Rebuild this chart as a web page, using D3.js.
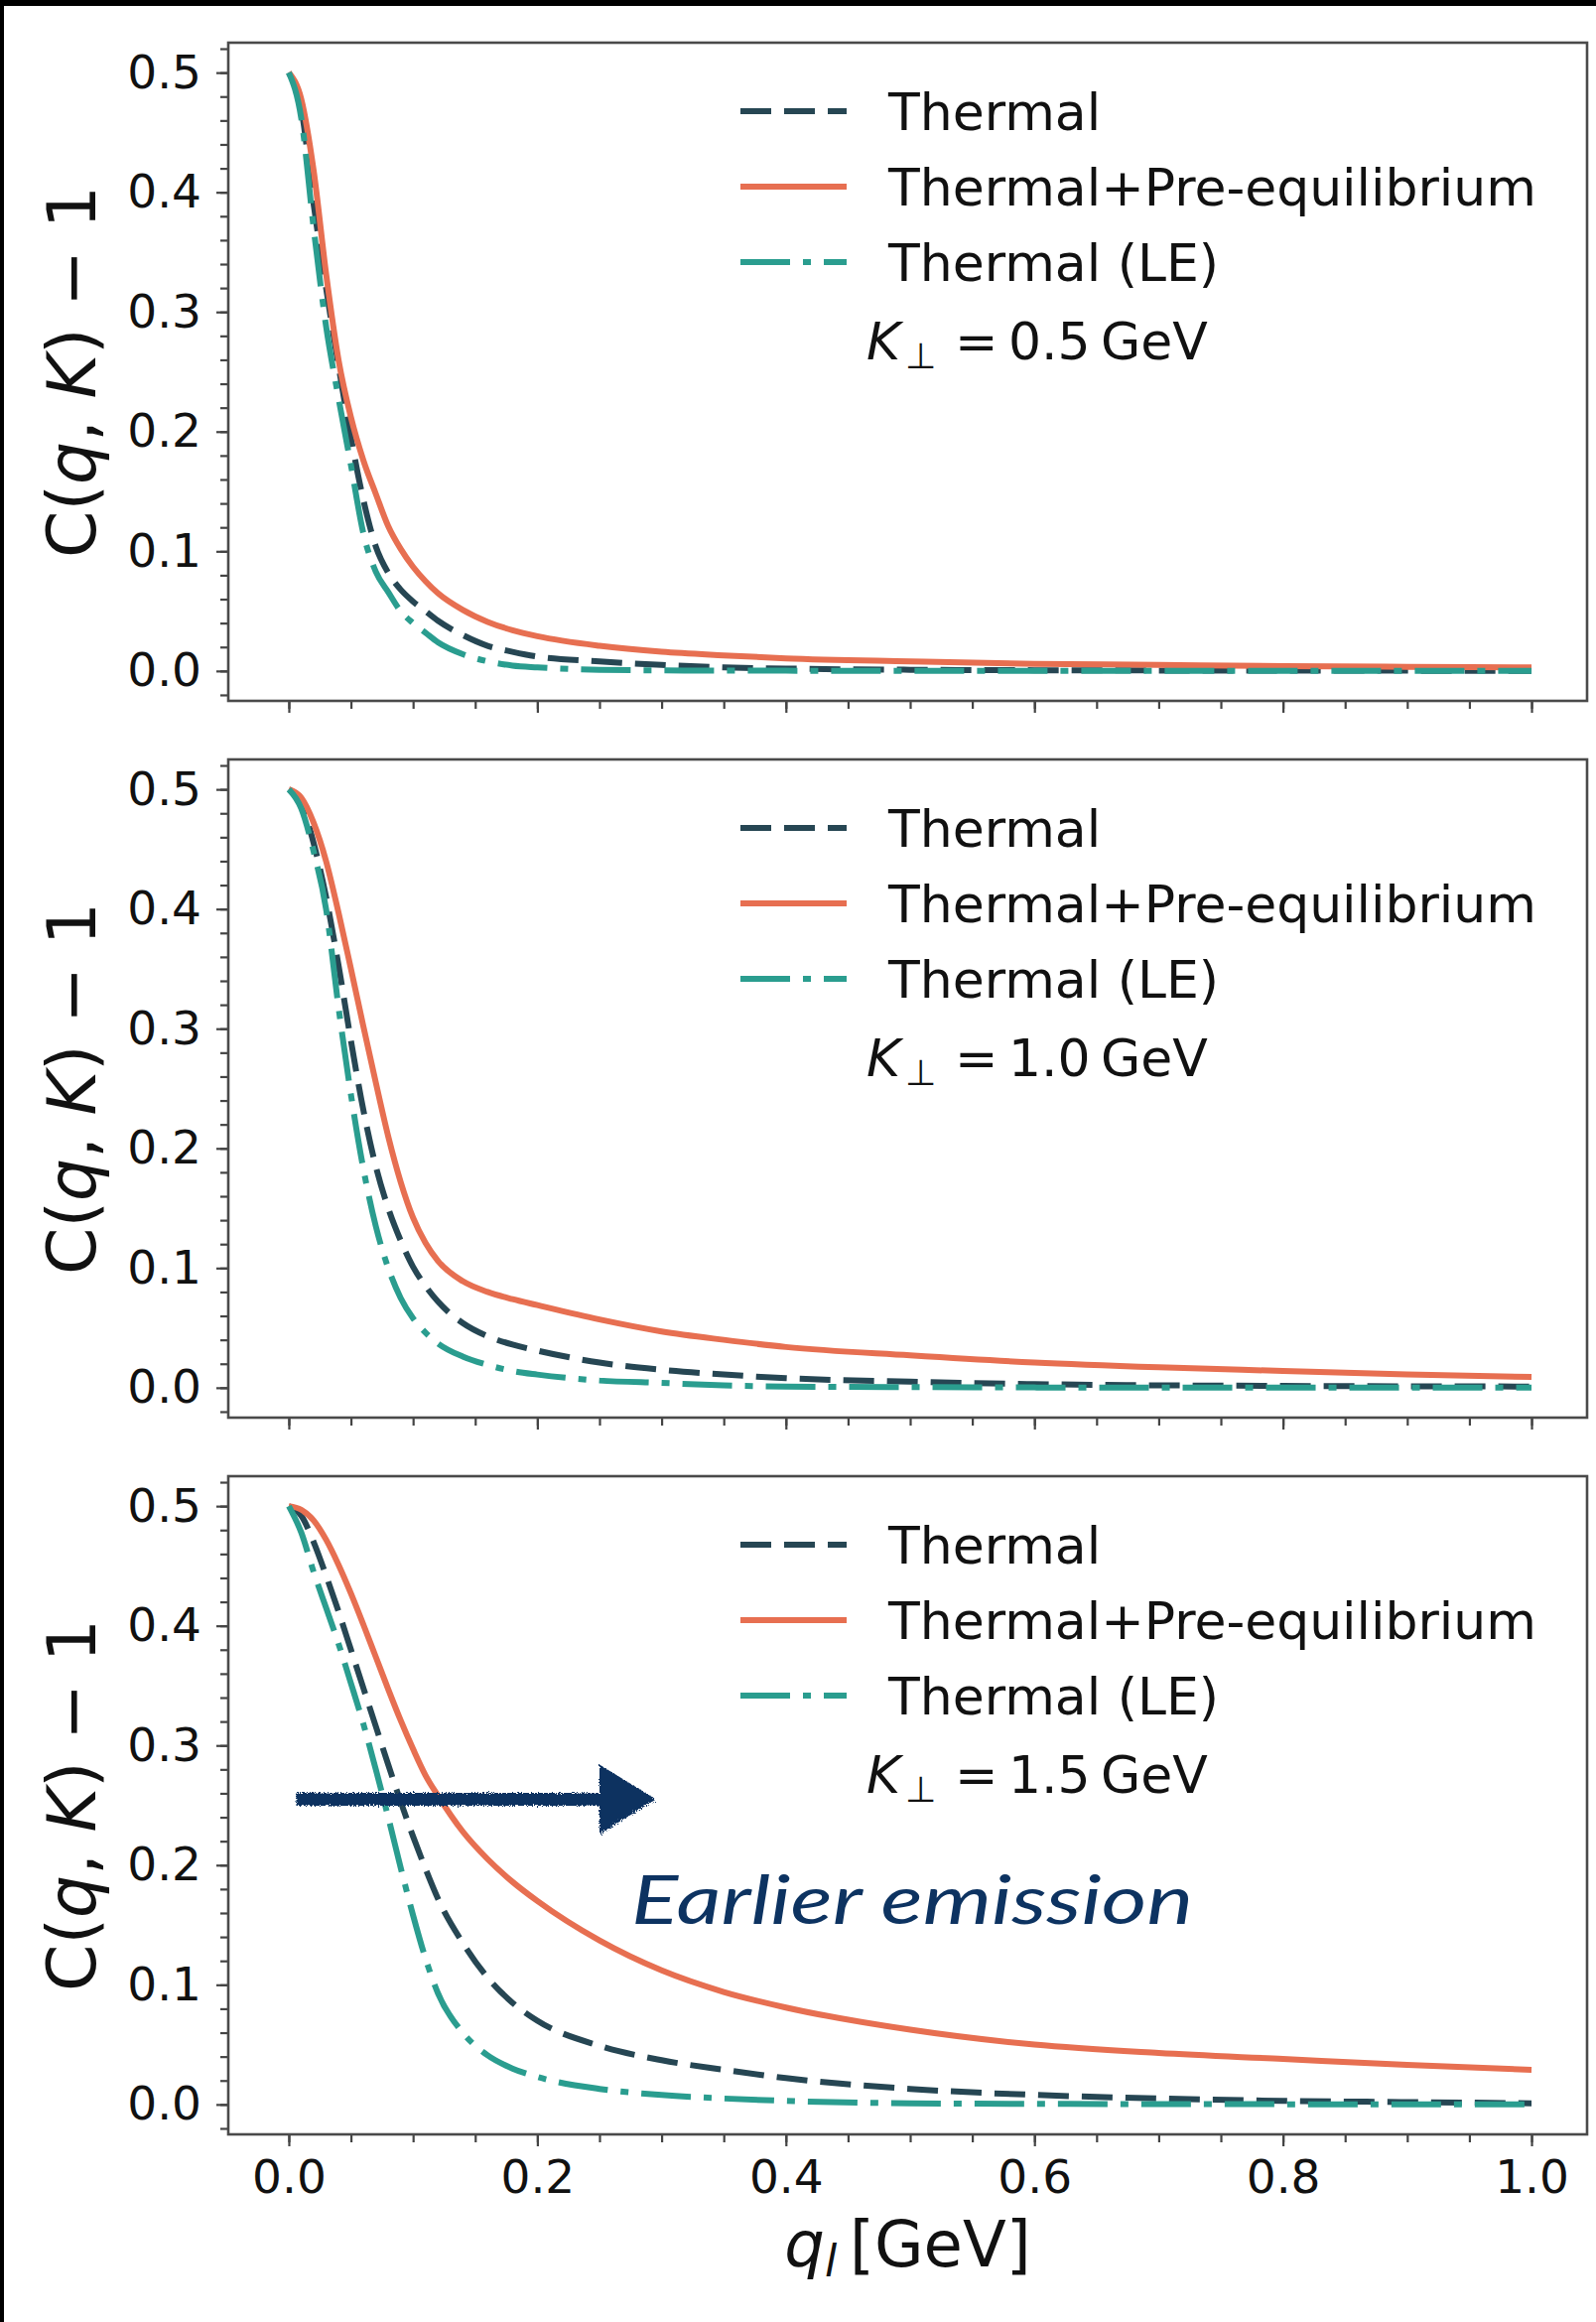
<!DOCTYPE html>
<html>
<head>
<meta charset="utf-8">
<script src="https://cdn.jsdelivr.net/npm/d3@7/dist/d3.min.js"></script>
<style>
body { margin: 0; background: #fff; }
</style>
</head>
<body>
<script>
var w = 1608;
var h = 2339;

// q_l grid [GeV] shared by all curves
var qVals = [0, 0.01, 0.02, 0.03, 0.04, 0.05, 0.06, 0.07, 0.08, 0.09, 0.1, 0.11, 0.12,
             0.14, 0.16, 0.18, 0.2, 0.25, 0.3, 0.35, 0.4, 0.5, 0.6, 0.7, 0.8, 0.9, 1.0];

// K_perp = 0.5 GeV
var thermal05 = [0.5, 0.47, 0.39, 0.32, 0.255, 0.195, 0.143, 0.104, 0.082, 0.068, 0.058, 0.05, 0.042,
                 0.03, 0.021, 0.016, 0.012, 0.008, 0.005, 0.003, 0.002, 0.001, 0.0006, 0.0004, 0.0003, 0.0002, 0.0001];
var prEq05    = [0.5, 0.478, 0.418, 0.332, 0.26, 0.212, 0.176, 0.148, 0.121, 0.102, 0.087, 0.075, 0.065,
                 0.051, 0.041, 0.034, 0.029, 0.021, 0.016, 0.013, 0.0105, 0.008, 0.006, 0.005, 0.004, 0.0035, 0.003];
var le05      = [0.5, 0.462, 0.37, 0.288, 0.228, 0.172, 0.115, 0.083, 0.066, 0.05, 0.04, 0.032, 0.024,
                 0.014, 0.008, 0.0045, 0.003, 0.001, 0.0005, 0.0003, 0.0002, 0.0001, 0, 0, 0, 0, 0];

// K_perp = 1.0 GeV
var thermal10 = [0.5, 0.488, 0.455, 0.41, 0.353, 0.29, 0.232, 0.185, 0.15, 0.123, 0.101, 0.085, 0.072,
                 0.054, 0.043, 0.036, 0.031, 0.021, 0.015, 0.011, 0.008, 0.005, 0.003, 0.002, 0.0015, 0.0012, 0.001];
var prEq10    = [0.5, 0.493, 0.472, 0.44, 0.397, 0.35, 0.302, 0.255, 0.21, 0.172, 0.142, 0.121, 0.106,
                 0.089, 0.08, 0.074, 0.069, 0.057, 0.047, 0.04, 0.034, 0.027, 0.021, 0.017, 0.014, 0.011, 0.009];
var le10      = [0.5, 0.484, 0.448, 0.4, 0.318, 0.245, 0.183, 0.135, 0.1, 0.075, 0.058, 0.046, 0.037,
                 0.026, 0.019, 0.014, 0.011, 0.006, 0.004, 0.002, 0.001, 0.0005, 0.0002, 0.0001, 0, 0, 0];

// K_perp = 1.5 GeV
var thermal15 = [0.5, 0.492, 0.47, 0.442, 0.412, 0.38, 0.348, 0.316, 0.284, 0.253, 0.224, 0.197, 0.172,
                 0.135, 0.106, 0.085, 0.07, 0.049, 0.037, 0.029, 0.022, 0.013, 0.008, 0.005, 0.003, 0.002, 0.001];
var prEq15    = [0.5, 0.497, 0.488, 0.472, 0.451, 0.427, 0.401, 0.374, 0.347, 0.321, 0.297, 0.275, 0.258,
                 0.228, 0.205, 0.186, 0.17, 0.137, 0.112, 0.094, 0.081, 0.0625, 0.05, 0.043, 0.038, 0.033, 0.029];
var le15      = [0.5, 0.478, 0.445, 0.415, 0.385, 0.352, 0.318, 0.28, 0.24, 0.198, 0.158, 0.122, 0.093,
                 0.06, 0.041, 0.03, 0.023, 0.013, 0.008, 0.005, 0.003, 0.001, 0.0005, 0.0003, 0.0002, 0.0001, 0.0001];

var kPerp = ["0.5", "1.0", "1.5"];
var seriesNames = ["Thermal", "Thermal+Pre-equilibrium", "Thermal (LE)"];
var panelSeries = [
    [thermal05, prEq05, le05],
    [thermal10, prEq10, le10],
    [thermal15, prEq15, le15]
];
var yTicks = [0, 0.1, 0.2, 0.3, 0.4, 0.5];
var xTicks = [0, 0.2, 0.4, 0.6, 0.8, 1.0];
var annotation = "Earlier emission";

var colors = ["#264653", "#e76f51", "#2a9d8f"];
var dashes = ["31,13", null, "50,13,8,13"];
var font = "DejaVu Sans, sans-serif";

var frameLeft = 230, frameRight = 1599;
var panelTop = 43, panelH = 663, panelStep = 722;

var svg = d3.select("body")
            .append("svg")
            .attr("width", w)
            .attr("height", h)
            .style("font-family", font);

svg.append("rect").attr("width", w).attr("height", h).attr("fill", "#fff");
// dark edges of the screenshot
svg.append("rect").attr("x", 0).attr("y", 0).attr("width", w).attr("height", 6).attr("fill", "#000");
svg.append("rect").attr("x", 0).attr("y", 0).attr("width", 4).attr("height", h).attr("fill", "#000");

var defs = svg.append("defs");
var rough = defs.append("filter").attr("id", "rough")
    .attr("x", "-10%").attr("y", "-50%").attr("width", "120%").attr("height", "200%");
rough.append("feTurbulence").attr("type", "fractalNoise").attr("baseFrequency", 0.8)
    .attr("numOctaves", 2).attr("result", "noise");
rough.append("feDisplacementMap").attr("in", "SourceGraphic").attr("in2", "noise")
    .attr("scale", 6);

var xScale = d3.scaleLinear()
    .domain([-0.0487, 1.0447])
    .range([frameLeft, frameRight]);

var minorY = d3.range(-1, 27).map(function(i){ return i * 0.02; });
var minorX = d3.range(0, 21).map(function(i){ return i * 0.05; });

panelSeries.forEach(function(series, p){
    var top = panelTop + p * panelStep;
    var yScale = d3.scaleLinear()
        .domain([-0.025, 0.525])
        .range([top + panelH, top]);

    var g = svg.append("g");

    // curves
    var line = d3.line()
        .x(function(d, i){ return xScale(qVals[i]); })
        .y(function(d){ return yScale(d); })
        .curve(d3.curveMonotoneX);

    series.forEach(function(vals, s){
        g.append("path")
            .datum(vals)
            .attr("d", line)
            .attr("fill", "none")
            .attr("stroke", colors[s])
            .attr("stroke-width", 6)
            .attr("stroke-dasharray", dashes[s])
            .attr("stroke-linecap", "butt");
    });

    // minor ticks
    var yMinor = d3.axisLeft(yScale).tickValues(minorY).tickSize(8).tickFormat("");
    var xMinor = d3.axisBottom(xScale).tickValues(minorX).tickSize(8).tickFormat("");
    g.append("g").attr("transform", "translate(" + frameLeft + ",0)").call(yMinor);
    g.append("g").attr("transform", "translate(0," + (top + panelH) + ")").call(xMinor);

    var yAxis = d3.axisLeft(yScale).tickValues(yTicks).tickSize(12).tickPadding(15)
        .tickFormat(d3.format(".1f"));
    var xAxis = d3.axisBottom(xScale).tickValues(xTicks).tickSize(12).tickPadding(14)
        .tickFormat(p === 2 ? d3.format(".1f") : "");
    g.append("g").attr("transform", "translate(" + frameLeft + ",0)").call(yAxis);
    g.append("g").attr("transform", "translate(0," + (top + panelH) + ")").call(xAxis);

    g.selectAll(".domain").remove();
    g.selectAll(".tick line").attr("stroke", "#444").attr("stroke-width", 2.2);
    g.selectAll(".tick text")
        .attr("font-family", font)
        .attr("font-size", 47)
        .attr("fill", "#111");

    // frame
    g.append("rect")
        .attr("x", frameLeft).attr("y", top)
        .attr("width", frameRight - frameLeft).attr("height", panelH)
        .attr("fill", "none").attr("stroke", "#4a4a4a").attr("stroke-width", 2.6);

    // y label
    var yl = g.append("text")
        .attr("transform", "translate(72," + (top + panelH / 2) + ") rotate(-90)")
        .attr("text-anchor", "middle")
        .attr("dy", "0.35em")
        .attr("font-size", 68)
        .attr("fill", "#111");
    yl.append("tspan").text("C(");
    yl.append("tspan").attr("font-style", "italic").text("q");
    yl.append("tspan").text(", ");
    yl.append("tspan").attr("font-style", "italic").text("K");
    yl.append("tspan").text(") \u2212 1");

    // legend
    seriesNames.forEach(function(name, s){
        var ry = top + 69 + s * 76;
        g.append("line")
            .attr("x1", 746).attr("x2", 853)
            .attr("y1", ry).attr("y2", ry)
            .attr("stroke", colors[s])
            .attr("stroke-width", 6)
            .attr("stroke-dasharray", dashes[s]);
        g.append("text")
            .attr("x", 895).attr("y", ry + 19)
            .attr("font-size", 52)
            .attr("fill", "#111")
            .text(name);
    });
    var ky = top + 319;
    g.append("text").attr("x", 873).attr("y", ky).attr("font-size", 52)
        .attr("font-style", "italic").attr("fill", "#111").text("K");
    g.append("text").attr("x", 912).attr("y", ky + 9).attr("font-size", 36)
        .attr("fill", "#111").text("\u22A5");
    g.append("text").attr("x", 962).attr("y", ky).attr("font-size", 52)
        .attr("fill", "#111")
        .text("=\u2009" + kPerp[p] + "\u2009GeV");

    if (p === 2) {
        // hand-drawn arrow and note
        var ay = yScale(0.255);
        var ax0 = xScale(0.006), ax1 = xScale(0.25), axTip = xScale(0.2955);
        var arrow = g.append("g").attr("filter", "url(#rough)");
        arrow.append("line")
            .attr("x1", ax0).attr("x2", ax1 + 10)
            .attr("y1", ay).attr("y2", ay)
            .attr("stroke", "#0d3361").attr("stroke-width", 13);
        arrow.append("path")
            .attr("d", "M" + ax1 + "," + (ay - 35) + " L" + axTip + "," + ay + " L" + ax1 + "," + (ay + 35) + " Z")
            .attr("fill", "#0d3361");

        g.append("text")
            .attr("x", xScale(0.2756)).attr("y", yScale(0.151))
            .style("font-family", "Lato, sans-serif")
            .attr("font-style", "italic")
            .attr("font-size", 68)
            .attr("textLength", 566)
            .attr("lengthAdjust", "spacingAndGlyphs")
            .attr("fill", "#0d3361")
            .text(annotation);

        var xl = g.append("text")
            .attr("x", (frameLeft + frameRight) / 2)
            .attr("y", 2283)
            .attr("text-anchor", "middle")
            .attr("font-size", 64)
            .attr("fill", "#111");
        xl.append("tspan").attr("font-style", "italic").text("q");
        xl.append("tspan").attr("font-style", "italic").attr("font-size", 44).attr("dy", 10).text("l");
        xl.append("tspan").attr("dy", -10).text("\u2009[GeV]");
    }
});
</script>
</body>
</html>
